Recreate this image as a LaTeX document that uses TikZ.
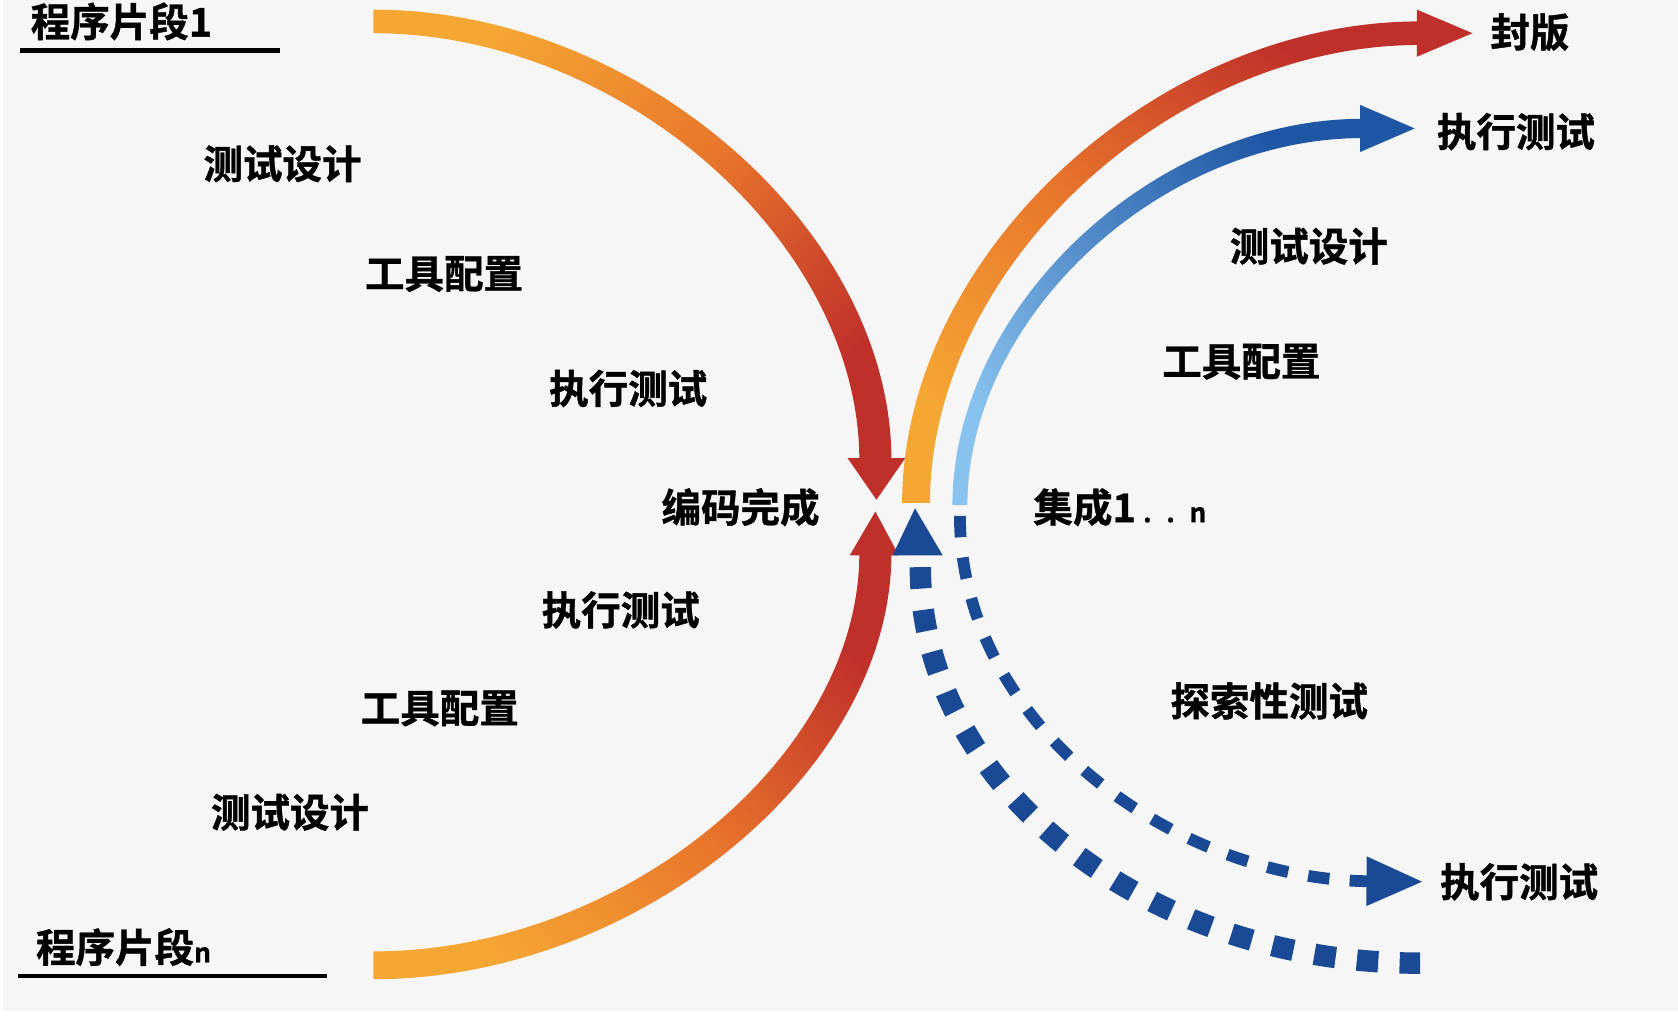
\documentclass[tikz,border=0pt]{standalone}
\usepackage{fontspec}
\newfontfamily\cjk{Noto Sans CJK SC}[UprightFont=* Bold,FakeBold=1]
\usetikzlibrary{arrows.meta}
\definecolor{paper}{HTML}{F6F6F6}
\definecolor{arcorange}{HTML}{F5A733}
\definecolor{arcmid}{HTML}{E8762B}
\definecolor{arcred}{HTML}{C0302A}
\definecolor{skyblue}{HTML}{88C2EE}
\definecolor{deepblue}{HTML}{1F57A5}
\definecolor{dotblue}{HTML}{1A4A96}
\tikzset{
  lbl/.style={font=\cjk\fontsize{10.5pt}{12pt}\selectfont,inner sep=0pt},
}
\newcommand\smalltail[1]{{\fontsize{7pt}{8pt}\selectfont #1}}
\begin{document}
\begin{tikzpicture}[x=0.01cm,y=-0.01cm,>={Triangle[length=0.53cm,width=0.43cm]}]
\useasboundingbox (0,0) rectangle (1568,959);
\fill[white] (0,0) rectangle (1568,959);
\fill[paper] (3,0) rectangle (1568,945);
% program segments
\node[lbl,anchor=west] (seg1) at (28,20) {程序片段1};
\draw[line width=0.045cm] (19,47) -- (262,47);
\node[lbl,anchor=west] (segn) at (33,885) {程序片段\smalltail{n}};
\draw[line width=0.045cm] (17,912) -- (306,912);
% left arcs
\shade[top color=arcorange,bottom color=arcred,middle color=arcmid,shading angle=45]
  (349,9) .. controls (596,9) and (833,214) .. (833,430) -- (803,430)
  .. controls (803,226) and (581,31) .. (349,31) -- cycle;
\fill[arcred] (792,428) -- (846,428) -- (819,467) -- cycle;
\shade[top color=arcred,bottom color=arcorange,middle color=arcmid,shading angle=-45]
  (349,915) .. controls (596,915) and (833,721) .. (833,517) -- (803,517)
  .. controls (803,708) and (581,889) .. (349,889) -- cycle;
\fill[arcred] (794,519) -- (840,519) -- (818,478) -- cycle;
% right arcs
\shade[top color=arcred,bottom color=arcorange,middle color=arcmid,shading angle=-35]
  (843,470) .. controls (843,240) and (1079,20) .. (1326,20) -- (1326,42)
  .. controls (1092,42) and (869,252) .. (869,470) -- cycle;
\fill[arcred] (1324,9) -- (1376,31) -- (1324,53) -- cycle;
\shade[top color=deepblue,bottom color=skyblue,shading angle=-45]
  (890,472) .. controls (890,288) and (1077,111) .. (1273,111) -- (1273,129)
  .. controls (1084,129) and (904,297) .. (904,472) -- cycle;
\fill[deepblue] (1271,98) -- (1322,120) -- (1271,142) -- cycle;
\fill[dotblue] (834,519) -- (881,519) -- (855,475) -- cycle;
% labels
\node[lbl] (ldesign1) at (264,153) {测试设计};
\node[lbl] (ltool1) at (415,256) {工具配置};
\node[lbl] (lexec1) at (587,363) {执行测试};
\node[lbl] (coded) at (692,474) {编码完成};
\node[lbl] (lexec2) at (580,570) {执行测试};
\node[lbl] (ltool2) at (411,662) {工具配置};
\node[lbl] (ldesign2) at (271,759) {测试设计};
\node[lbl,anchor=west] (release) at (1392,30) {封版};
\node[lbl,anchor=west] (rexec1) at (1342,123) {执行测试};
\node[lbl] (rdesign) at (1223,230) {测试设计};
\node[lbl] (rtool) at (1160,338) {工具配置};
\node[lbl,anchor=west] (integ) at (965,474) {集成1\smalltail{\;.\;\;.\;\;n}};
\node[lbl] (explore) at (1186,655) {探索性测试};
\node[lbl,anchor=west] (rexec2) at (1345,824) {执行测试};
% dashed paths
\coordinate (dotstart) at (860,530);
\coordinate (dotend) at (1327,900);
\draw[dotblue,line width=0.2cm,dash pattern=on 0.2cm off 0.2cm]
  (dotstart) .. controls (860,732) and (1067,900) .. (dotend);
\coordinate (dashstart) at (897,482);
\draw[->,dotblue,line width=0.11cm,dash pattern=on 0.2cm off 0.19cm,shorten >=0.15cm]
  (dashstart) .. controls (897,680) and (1100,822) .. (rexec2.west);
\end{tikzpicture}
\end{document}
